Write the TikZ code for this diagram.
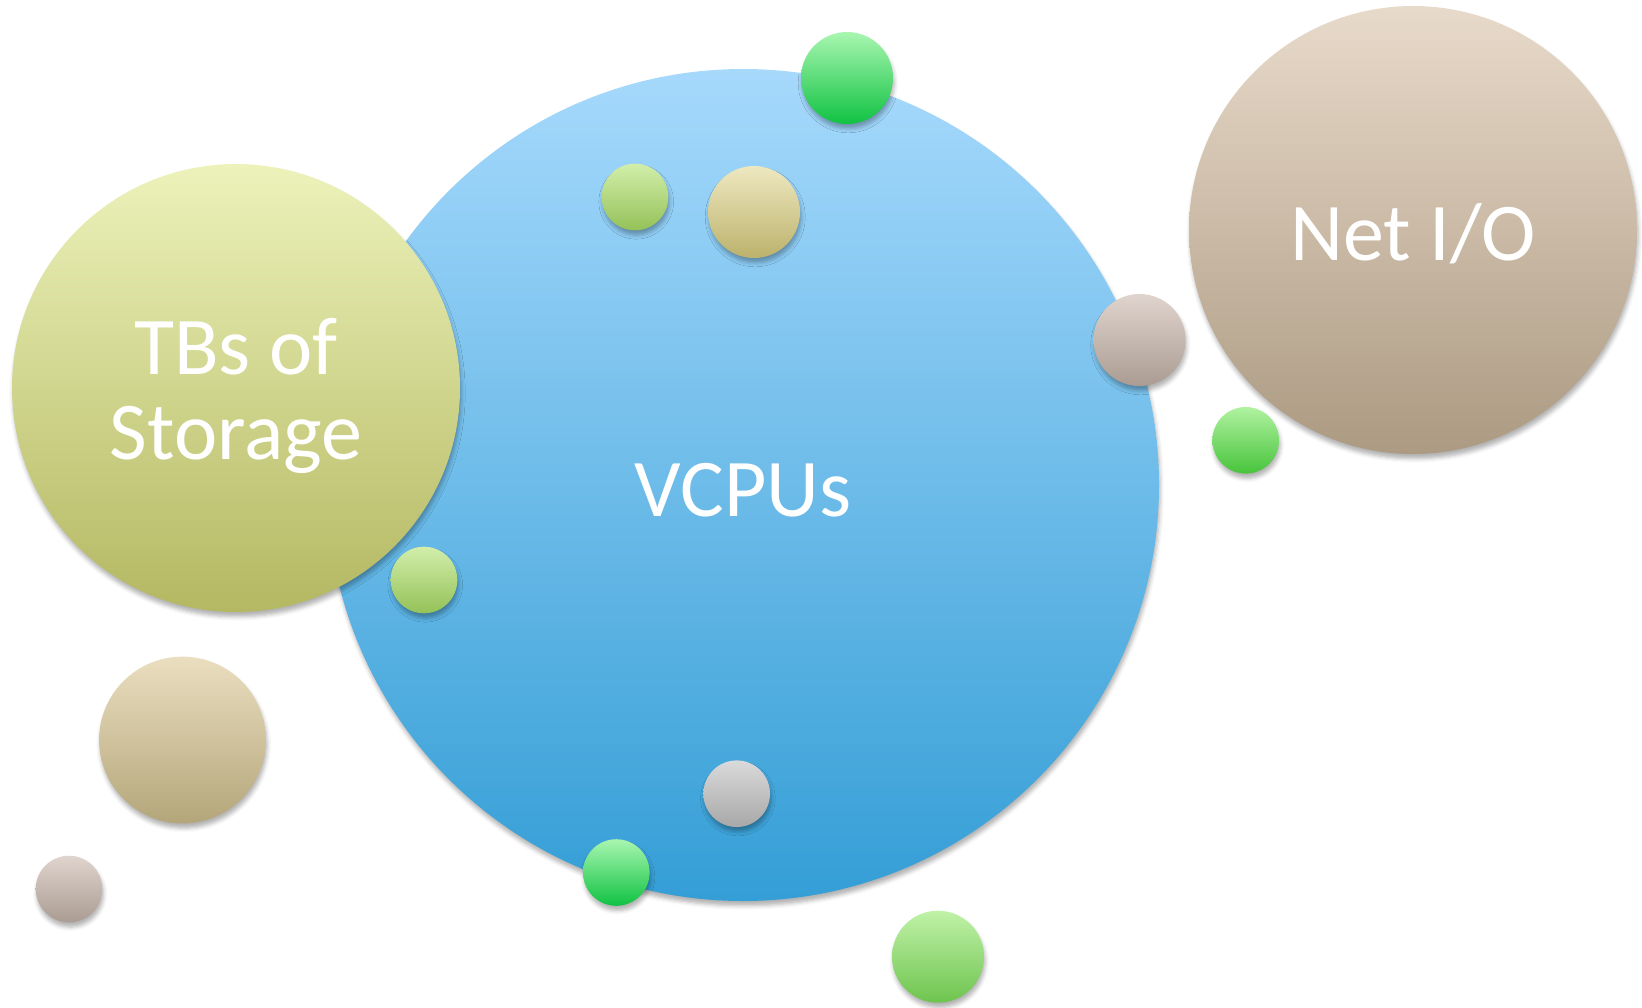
\documentclass[tikz,border=0pt]{standalone}
\usepackage{fontspec}
\setmainfont{Carlito}
\usetikzlibrary{shadows.blur}

\definecolor{cpuTop}{RGB}{166,217,252}
\definecolor{cpuBot}{RGB}{52,158,214}
\definecolor{stoTop}{RGB}{236,242,186}
\definecolor{stoBot}{RGB}{180,184,98}
\definecolor{netTop}{RGB}{232,218,202}
\definecolor{netBot}{RGB}{172,154,130}
\definecolor{grnTop}{RGB}{168,246,176}
\definecolor{grnBot}{RGB}{16,194,66}
\definecolor{lgrTop}{RGB}{192,242,168}
\definecolor{lgrBot}{RGB}{110,196,78}
\definecolor{mgrTop}{RGB}{176,242,160}
\definecolor{mgrBot}{RGB}{72,196,60}
\definecolor{ylgTop}{RGB}{210,238,170}
\definecolor{ylgBot}{RGB}{148,194,88}
\definecolor{tanTop}{RGB}{238,232,192}
\definecolor{tanBot}{RGB}{188,178,108}
\definecolor{sndTop}{RGB}{234,222,192}
\definecolor{sndBot}{RGB}{180,166,122}
\definecolor{mauTop}{RGB}{224,212,206}
\definecolor{mauBot}{RGB}{170,156,146}
\definecolor{gryTop}{RGB}{218,218,218}
\definecolor{gryBot}{RGB}{168,168,168}

\tikzset{
  bubble/.style n args={3}{circle, inner sep=0pt, minimum size=#1, top color=#2, bottom color=#3,
    blur shadow={shadow xshift=0.6pt, shadow yshift=-2.4pt, shadow blur radius=2pt, shadow opacity=30}},
  label text/.style={text=white, align=center, font=\fontsize{41}{42.5}\selectfont}
}

\begin{document}
\begin{tikzpicture}[x=0.5pt, y=-0.5pt]
  \useasboundingbox (0,0) rectangle (1642,1007);
  % big bubbles
  \node[bubble={416pt}{cpuTop}{cpuBot}] (cpu) at (743,485) {};
  \node[label text, yshift=-2.6pt] at (cpu.center) {VCPUs};
  \node[bubble={224pt}{stoTop}{stoBot}] (storage) at (236,388) {};
  \node[label text, yshift=-4.2pt] at (storage.center) {TBs of\\Storage};
  \node[bubble={224pt}{netTop}{netBot}] (netio) at (1413,230) {};
  \node[label text, yshift=-2pt] at (netio.center) {Net I/O};
  % small bubbles
  \node[bubble={46pt}{grnTop}{grnBot}] (topgreen) at (847,78) {};
  \node[bubble={33.3pt}{ylgTop}{ylgBot}] (cpuleaf) at (635,197) {};
  \node[bubble={46pt}{tanTop}{tanBot}] (cputan) at (754,212) {};
  \node[bubble={46pt}{mauTop}{mauBot}] (edgemauve) at (1139.5,340) {};
  \node[bubble={33.3pt}{mgrTop}{mgrBot}] (netgreen) at (1245.7,440.3) {};
  \node[bubble={33.3pt}{ylgTop}{ylgBot}] (edgeleaf) at (424,580) {};
  \node[bubble={33.3pt}{gryTop}{gryBot}] (cpugray) at (736.7,793.7) {};
  \node[bubble={33.3pt}{grnTop}{grnBot}] (edgegreen) at (616.3,872.5) {};
  \node[bubble={46pt}{lgrTop}{lgrBot}] (lowgreen) at (938,956.7) {};
  \node[bubble={83.4pt}{sndTop}{sndBot}] (sand) at (182.5,740) {};
  \node[bubble={33.3pt}{mauTop}{mauBot}] (lowmauve) at (69,889) {};
\end{tikzpicture}
\end{document}
